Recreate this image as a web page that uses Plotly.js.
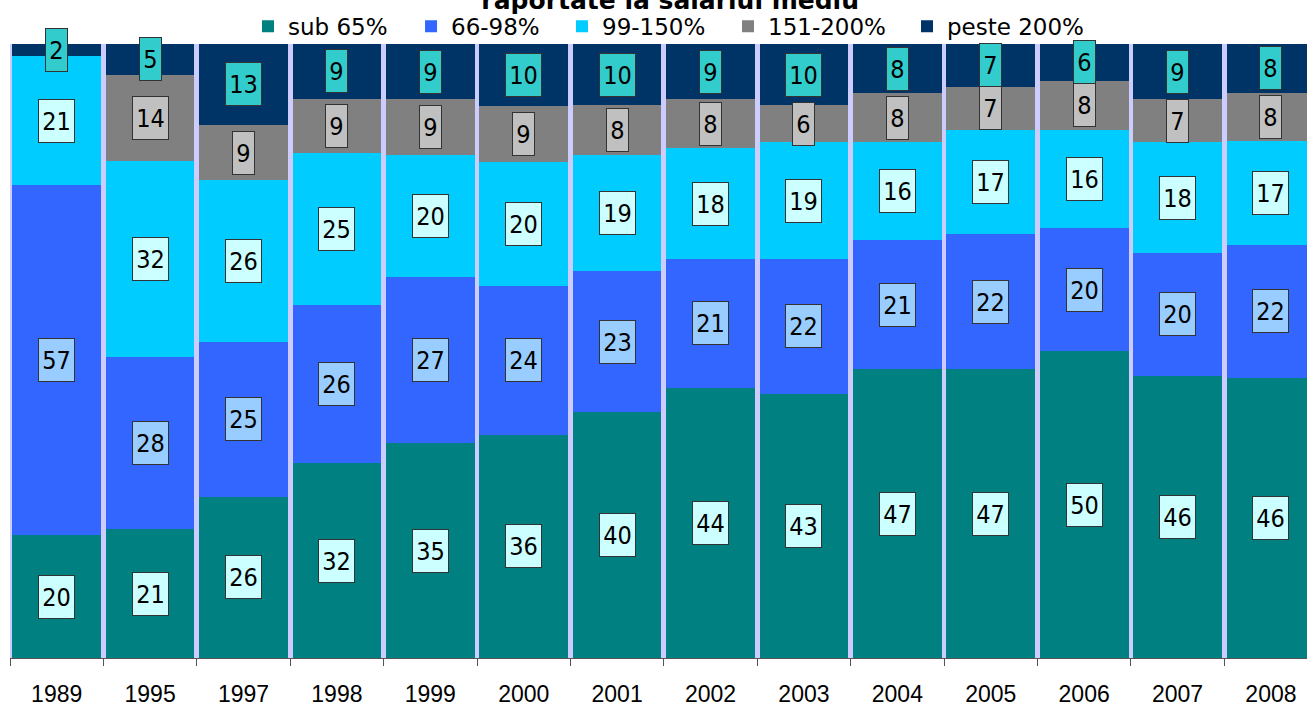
<!DOCTYPE html>
<html>
<head>
<meta charset="utf-8">
<script src="https://cdn.plot.ly/plotly-3.0.1.min.js"></script>
<style>html,body{margin:0;padding:0;background:#fff;overflow:hidden}#chart{width:1307px;height:706px}</style>
</head>
<body>
<div id="chart"></div>
<script>
const years = ['1989','1995','1997','1998','1999','2000','2001','2002','2003','2004','2005','2006','2007','2008'];
const sub65    = [20,21,26,32,35,36,40,44,43,47,47,50,46,46];
const r66_98   = [57,28,25,26,27,24,23,21,22,21,22,20,20,22];
const r99_150  = [21,32,26,25,20,20,19,18,19,16,17,16,18,17];
const r151_200 = [null,14,9,9,9,9,8,8,6,8,7,8,7,8];
const peste200 = [2,5,13,9,9,10,10,9,10,8,7,6,9,8];
const seriesNames = ['sub 65%','66-98%','99-150%','151-200%','peste 200%'];

const series = [sub65, r66_98, r99_150, r151_200, peste200];
const barColors = ['#008080','#3366FF','#00CCFF','#808080','#003366'];
const boxColors = ['#CCFFFF','#99CCFF','#CCFFFF','#C0C0C0','#33CCCC'];
const legendIds = ['legend','legend2','legend3','legend4','legend5'];
const legendX = [0.1835, 0.3092, 0.4256, 0.5536, 0.6916];

const traces = series.map((vals, i) => ({
  type: 'bar', name: seriesNames[i], x: years, y: vals, legend: legendIds[i],
  marker: {color: barColors[i], line: {width: 0}},
  hoverinfo: 'skip'
}));

const totals = years.map((_, j) => series.reduce((s, arr) => s + (arr[j] || 0), 0));
const annotations = [];
years.forEach((yr, j) => {
  let cum = 0;
  series.forEach((arr, i) => {
    const v = arr[j];
    if (v === null || v === undefined) return;
    const mid = (cum + v / 2) / totals[j] * 100;
    cum += v;
    const txt = String(v);
    annotations.push({
      x: j, y: mid, xref: 'x', yref: 'y', text: txt, showarrow: false,
      font: {family: 'DejaVu Sans Condensed, Noto Sans, sans-serif', size: 25, color: '#000'},
      bgcolor: boxColors[i], bordercolor: '#333333', borderwidth: 1, borderpad: 1,
      width: txt.length * 14 + 5, height: 40, xanchor: 'center', yanchor: 'middle'
    });
  });
});

const layout = {
  width: 1307, height: 706,
  margin: {l: 10, r: 0, t: 44, b: 48},
  paper_bgcolor: '#FFFFFF', plot_bgcolor: '#CCCCFF',
  barmode: 'stack', barnorm: 'percent', bargap: 0.05,
  title: {text: '<b>raportate la salariul mediu</b>', font: {family: 'DejaVu Sans, sans-serif', size: 25, color: '#000'},
          x: 0.509, xref: 'paper', xanchor: 'center', y: 1, yref: 'container', yanchor: 'middle'},
  showlegend: true,
  xaxis: {type: 'category', range: [-0.5, 13.386], showline: true, linecolor: '#555555', linewidth: 1,
          ticks: 'outside', tickson: 'boundaries', ticklen: 7, tickcolor: '#555555', showgrid: false,
          ticklabelstandoff: 15,
          tickfont: {family: 'Liberation Sans Narrow, Arial Narrow, Liberation Sans, sans-serif', size: 23, color: '#000'}},
  yaxis: {range: [0, 100], showgrid: false, showticklabels: false, zeroline: false, showline: false, ticks: ''},
  annotations: annotations
};
legendIds.forEach((id, i) => {
  layout[id] = {orientation: 'h', x: legendX[i], xanchor: 'left', y: 0.994, yanchor: 'bottom',
                font: {family: 'DejaVu Sans, sans-serif', size: 23, color: '#000'}, bgcolor: 'rgba(0,0,0,0)'};
});

Plotly.newPlot('chart', traces, layout, {displayModeBar: false, staticPlot: true});
</script>
</body>
</html>
